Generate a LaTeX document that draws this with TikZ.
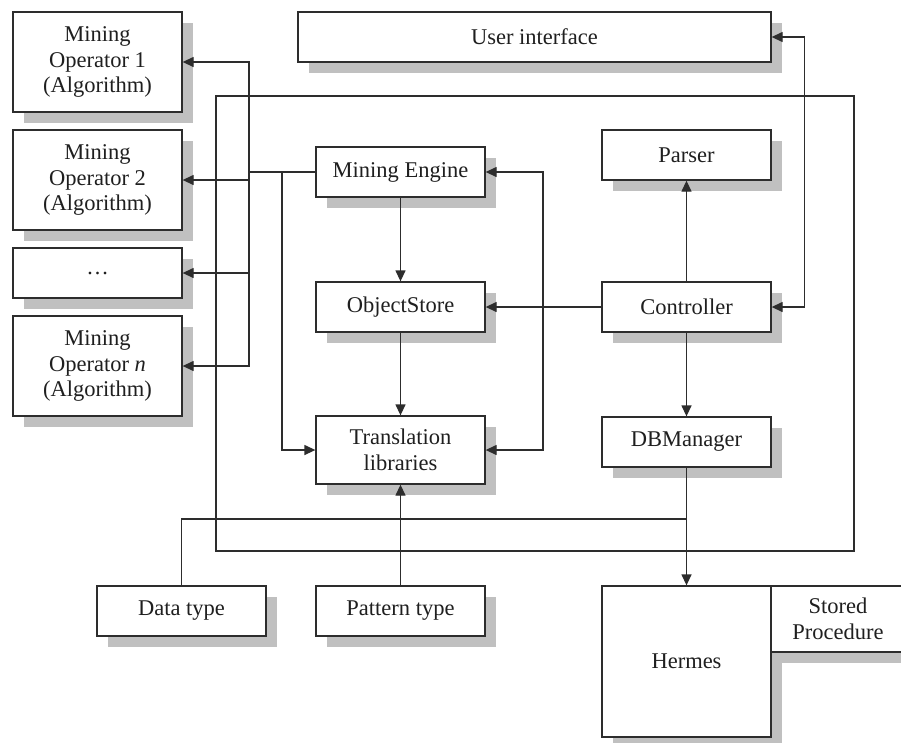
\documentclass[tikz,border=0pt]{standalone}
\usepackage{fontspec}
\setmainfont{Liberation Serif}
\usetikzlibrary{arrows.meta,shadows}
\definecolor{shadowgray}{RGB}{192,192,192}
\definecolor{linegray}{RGB}{45,45,45}
\begin{document}
\begin{tikzpicture}[x=1pt,y=-1pt,
  box/.style={draw=linegray, fill=white, line width=1.3pt, align=center,
    minimum width=169pt, minimum height=50pt, inner sep=0pt,
    font=\fontsize{22.5}{25.5}\selectfont, text=black!88,
    drop shadow={shadow xshift=11pt, shadow yshift=-11pt, fill=shadowgray, opacity=1}},
  frame/.style={draw=linegray, line width=1.3pt, inner sep=0pt},
  conn/.style={draw=linegray, line width=1.3pt},
  arr/.style={conn, -{Triangle[length=11pt,width=10pt]}},
  darr/.style={conn, {Triangle[length=11pt,width=10pt]}-{Triangle[length=11pt,width=10pt]}}
]
\useasboundingbox (0,0) rectangle (901,742);
\fill[white] (0,0) rectangle (901,742);

% system frame
\node[frame, minimum width=638pt, minimum height=455pt] (sys) at (535,323.5) {};

% left operators
\node[box, minimum height=100pt] (mo1) at (97.5,62) {Mining\\Operator 1\\(Algorithm)};
\node[box, minimum height=100pt] (mo2) at (97.5,180) {Mining\\Operator 2\\(Algorithm)};
\node[box] (dots) at (97.5,273) {…};
\node[box, minimum height=100pt] (mon) at (97.5,366) {Mining\\Operator \textit{n}\\(Algorithm)};

% top
\node[box, minimum width=473pt] (ui) at (534.5,37) {User interface};

% centre column
\node[box] (me) at (400.5,172) {Mining Engine};
\node[box] (os) at (400.5,307) {ObjectStore};
\node[box, minimum height=68pt] (tl) at (400.5,450) {Translation\\libraries};

% right column
\node[box] (parser) at (686.5,155) {Parser};
\node[box] (ctrl) at (686.5,307) {Controller};
\node[box] (db) at (686.5,442) {DBManager};

% bottom
\node[box] (dt) at (181.5,611) {Data type};
\node[box] (pt) at (400.5,611) {Pattern type};
\node[box, minimum height=151pt] (hermes) at (686.5,661.5) {Hermes};
\node[box, minimum width=134pt, minimum height=66pt] (sp) at (838,619) {Stored\\Procedure};

% coordinates
\coordinate (busL) at (249,172);
\coordinate (brL) at (282,172);
\coordinate (brR) at (543,307);
\coordinate (jn) at (686.5,519);

% connectors left
\draw[conn] (me.west) -- (busL);
\draw[arr] (busL) |- (mo1.east);
\draw[arr] (busL) |- (mo2.east);
\draw[arr] (busL) |- (dots.east);
\draw[arr] (busL) |- (mon.east);
\draw[arr] (brL) |- (tl.west);

% centre
\draw[arr] (me.south) -- (os.north);
\draw[arr] (os.south) -- (tl.north);
\draw[arr] (ctrl.west) -- (os.east);
\draw[arr] (brR) |- (me.east);
\draw[arr] (brR) |- (tl.east);

% right
\draw[arr] (ctrl.north) -- (parser.south);
\draw[arr] (ctrl.south) -- (db.north);
\draw[darr] (ui.east) -- ++(33,0) |- (ctrl.east);
\draw[arr] (db.south) -- (hermes.north);

% bottom
\draw[conn] (dt.north) |- (jn);
\draw[arr] (pt.north) -- (tl.south);
\end{tikzpicture}
\end{document}
